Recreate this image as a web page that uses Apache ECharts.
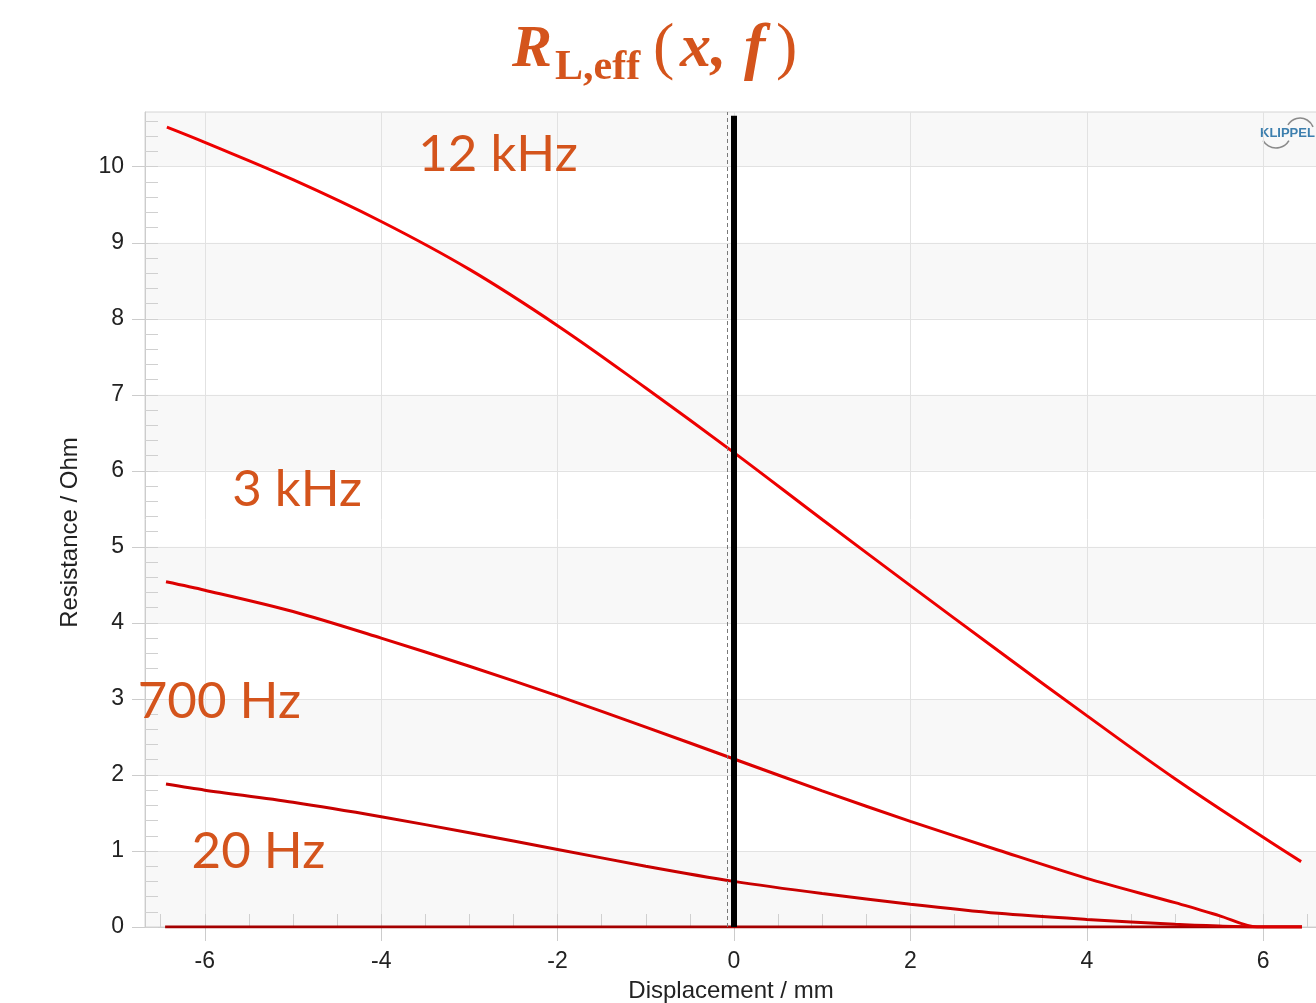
<!DOCTYPE html>
<html>
<head>
<meta charset="utf-8">
<script src="https://cdn.jsdelivr.net/npm/echarts@6/dist/echarts.min.js"></script>
<style>
    html, body { margin: 0; padding: 0; background: #fff; }
    #chart { width: 1316px; height: 1003px; }
</style>
</head>
<body>
<div id="chart"></div>
<script>
// displacement positions (mm) of the read-off points
const xCurve = [-6.43, -6, -5, -4, -3, -2, -1, 0, 1, 2, 3, 4, 5, 6, 6.43];
const r12k = [10.52, 10.32, 9.83, 9.28, 8.65, 7.91, 7.09, 6.24, 5.36, 4.49, 3.63, 2.78, 1.95, 1.18, 0.86];

const xLow = [-6.44, -6, -5, -4, -3, -2, -1, 0, 1, 2, 3, 4, 5, 5.5, 5.93, 6.44];
const r3k = [4.54, 4.43, 4.15, 3.80, 3.43, 3.04, 2.63, 2.21, 1.79, 1.39, 1.01, 0.64, 0.32, 0.15, 0, 0];
const r700 = [1.88, 1.80, 1.64, 1.45, 1.24, 1.02, 0.80, 0.60, 0.44, 0.30, 0.18, 0.10, 0.035, 0.012, 0, 0];

const xZero = [-6.45, 6.44];
const r20 = [0, 0];

const xTicks = [-6, -4, -2, 0, 2, 4, 6];
const yTicks = [0, 1, 2, 3, 4, 5, 6, 7, 8, 9, 10];

// annotation texts and where they sit (data coords)
const labelText = ['12 kHz', '3 kHz', '700 Hz', '20 Hz'];
const labelX = [-3.58, -5.69, -6.76, -6.15];
const labelY = [10.16, 5.75, 2.96, 0.99];

const restPos = 0;
const cursorPos = -0.08;

const orange = '#d4541c';

function pairs(xs, ys) {
    return xs.map((x, i) => [x, ys[i]]);
}

// minor tick positions
let xMinor = [];
for (let i = -13; i <= 13; i++) xMinor.push(i * 0.5);
let yMinor = [];
for (let i = 0; i <= 53; i++) yMinor.push(+(i * 0.2).toFixed(1));

let chart = echarts.init(document.getElementById('chart'));

let gridPos = { left: 145, top: 112, right: -1, bottom: 76, containLabel: false, outerBoundsMode: 'none' };
let axisFont = { fontFamily: 'Liberation Sans', fontSize: 23, color: '#222' };

let option = {
    animation: false,
    grid: [
        Object.assign({ show: true, backgroundColor: '#f8f8f8', borderColor: '#d4d4d4', borderWidth: 1 }, gridPos),
        Object.assign({ show: false }, gridPos)
    ],
    xAxis: [
        {
            type: 'value',
            gridIndex: 0,
            min: -6.678,
            max: 6.61,
            name: 'Displacement / mm',
            nameLocation: 'middle',
            nameGap: 52,
            nameTextStyle: { fontFamily: 'Liberation Sans', fontSize: 24, color: '#222' },
            axisLine: { show: true, onZero: false, lineStyle: { color: '#cccccc', width: 1 } },
            axisTick: { show: true, length: 14, customValues: xTicks, lineStyle: { color: '#cccccc' } },
            axisLabel: Object.assign({ customValues: xTicks, margin: 23 }, axisFont),
            splitLine: { show: true, lineStyle: { color: '#e2e2e2', width: 1 } }
        },
        {
            type: 'value',
            gridIndex: 1,
            min: -6.678,
            max: 6.61,
            axisLine: { show: false, onZero: false },
            axisTick: { show: true, inside: true, length: 13, customValues: xMinor, lineStyle: { color: '#d0d0d0' } },
            axisLabel: { show: false },
            splitLine: { show: false }
        }
    ],
    yAxis: [
        {
            type: 'value',
            gridIndex: 0,
            min: 0,
            max: 10.72,
            name: 'Resistance / Ohm',
            nameLocation: 'middle',
            nameGap: 63,
            nameTextStyle: { fontFamily: 'Liberation Sans', fontSize: 24, color: '#222', padding: [0, 26, 0, 0] },
            axisLine: { show: true, onZero: false, lineStyle: { color: '#cccccc', width: 1 } },
            axisTick: { show: true, length: 13, customValues: yTicks, lineStyle: { color: '#cccccc' } },
            axisLabel: Object.assign({ customValues: yTicks, margin: 21 }, axisFont),
            splitLine: { show: true, lineStyle: { color: '#e2e2e2', width: 1 } },
            splitArea: { show: true, areaStyle: { color: ['rgba(0,0,0,0)', '#ffffff'] } }
        },
        {
            type: 'value',
            gridIndex: 1,
            min: 0,
            max: 10.72,
            axisLine: { show: false, onZero: false },
            axisTick: { show: true, inside: true, length: 13, customValues: yMinor, lineStyle: { color: '#d0d0d0' } },
            axisLabel: { show: false },
            splitLine: { show: false }
        }
    ],
    series: [
        {
            // reference lines
            type: 'line',
            data: [],
            z: 1,
            markLine: {
                silent: true,
                symbol: 'none',
                label: { show: false },
                data: [
                    [{ coord: [cursorPos, 0] }, { coord: [cursorPos, 10.72], lineStyle: { color: '#7a7a7a', width: 1, type: [4, 3] } }],
                    [{ coord: [restPos, 0] }, { coord: [restPos, 10.67], lineStyle: { color: '#000', width: 6, type: 'solid' } }]
                ]
            }
        },
        {
            name: '20 Hz',
            type: 'line',
            data: pairs(xZero, r20),
            showSymbol: false,
            z: 3,
            lineStyle: { color: '#a40000', width: 3 }
        },
        {
            name: '700 Hz',
            type: 'line',
            data: pairs(xLow, r700),
            smooth: 0.3,
            showSymbol: false,
            z: 4,
            lineStyle: { color: '#c80000', width: 3 }
        },
        {
            name: '3 kHz',
            type: 'line',
            data: pairs(xLow, r3k),
            smooth: 0.3,
            showSymbol: false,
            z: 4,
            lineStyle: { color: '#dc0000', width: 3 }
        },
        {
            name: '12 kHz',
            type: 'line',
            data: pairs(xCurve, r12k),
            smooth: 0.4,
            showSymbol: false,
            z: 4,
            lineStyle: { color: '#ee0000', width: 3 }
        },
        {
            type: 'scatter',
            symbolSize: 0,
            clip: false,
            z: 6,
            itemStyle: { opacity: 1 },
            data: labelX.map((x, i) => ({ value: [x, labelY[i]], label: { formatter: labelText[i] } })),
            label: {
                show: true,
                position: 'right',
                distance: 0,
                fontFamily: 'Lato',
                fontSize: 51,
                color: orange
            }
        }
    ],
    graphic: [
        { type: 'text', x: 512, y: 50, style: { text: 'R', font: 'italic bold 60px "Liberation Serif"', fill: orange, verticalAlign: 'middle' } },
        { type: 'text', x: 555, y: 68, style: { text: 'L,eff', font: 'bold 42px "Liberation Serif"', fill: orange, verticalAlign: 'middle' } },
        { type: 'text', x: 653, y: 50, style: { text: '(', font: '64px "Liberation Serif"', fill: orange, verticalAlign: 'middle' } },
        { type: 'text', x: 680, y: 50, style: { text: 'x,', font: 'italic bold 62px "Liberation Serif"', fill: orange, verticalAlign: 'middle' } },
        { type: 'text', x: 744, y: 50, style: { text: 'f', font: 'italic bold 64px "Liberation Serif"', fill: orange, verticalAlign: 'middle' } },
        { type: 'text', x: 776, y: 50, style: { text: ')', font: '64px "Liberation Serif"', fill: orange, verticalAlign: 'middle' } },
        // KLIPPEL logo
        { type: 'text', x: 1260, y: 133, style: { text: 'KLIPPEL', font: 'bold 13px "Liberation Sans"', fill: '#3d7fae', verticalAlign: 'middle' } },
        { type: 'arc', shape: { cx: 1300, cy: 132, r: 14, startAngle: -Math.PI * 0.83, endAngle: -Math.PI * 0.12 }, style: { stroke: '#8a8a8a', lineWidth: 1.6, fill: null } },
        { type: 'arc', shape: { cx: 1276, cy: 133, r: 15, startAngle: Math.PI * 0.17, endAngle: Math.PI * 0.83 }, style: { stroke: '#8a8a8a', lineWidth: 1.6, fill: null } }
    ]
};

chart.setOption(option);
</script>
</body>
</html>
